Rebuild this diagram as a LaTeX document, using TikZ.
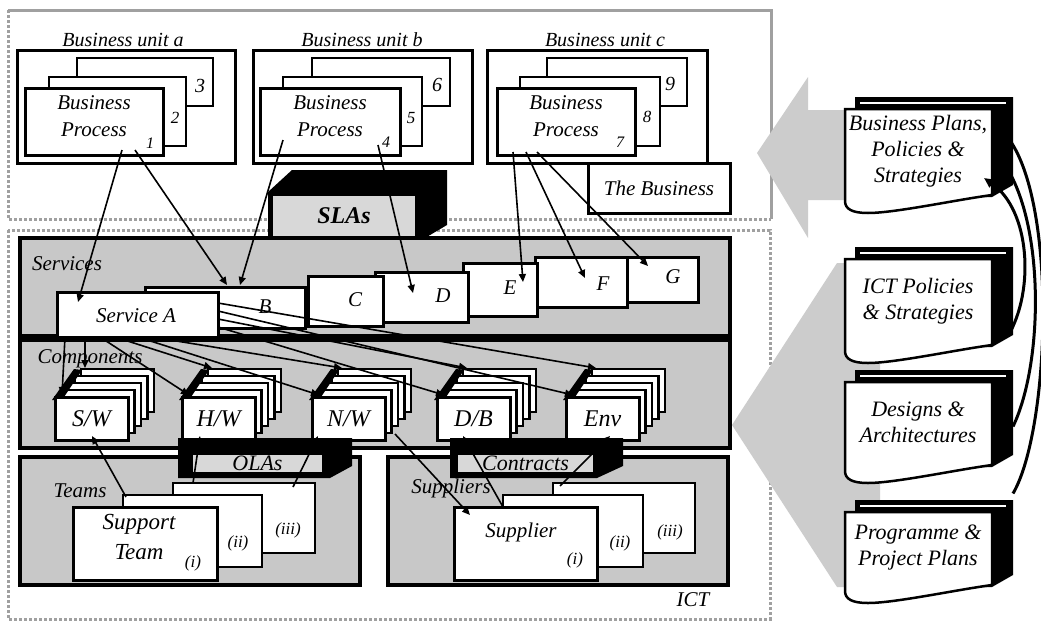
\documentclass[tikz,border=0pt]{standalone}
\usepackage{fontspec}
\setmainfont{Liberation Serif}
\usetikzlibrary{arrows.meta,calc}
\definecolor{panel}{RGB}{200,200,200}
\definecolor{slagray}{RGB}{216,216,216}
\definecolor{framegray}{RGB}{160,160,160}
\definecolor{arrowgray}{RGB}{204,204,204}
\newcommand\compstack[3]{%
  \foreach \k in {4,3,2,1}{%
    \node[rb, line width=2.6pt, minimum width=73pt, minimum height=43pt] (#1\k) at ({#2+6.5*\k},{397-7*\k}) {};}
  \fill ({#2-3},400) -- ({#2+19},369) -- ({#2+27},370) -- ({#2+7},400) -- cycle;
  \node[rb, line width=3pt, minimum width=73pt, minimum height=43pt, font=\fontsize{24}{28}\selectfont\itshape] (#1) at (#2,397) {#3};
}
\newcommand\bookshape[4]{%
  \fill (855,#1) -- (1013,#1) -- (1013,#2-28) -- (992,#2-16) -- (855,#2-16) -- cycle;
  \draw[white, line width=1.5pt] (860,#1+6) -- (1006,#1+6);
  \filldraw[fill=white, line width=2.5pt] (845,#1+12) -- (992,#1+12) -- (992,#2-18) .. controls (955,#2-13) and (895,#2) .. (868,#2) .. controls (852,#2) and (845,#2-4) .. (845,#2-12) -- cycle;
  \node[bt] (#3) at (918,{(#1+#2)/2-4}) {#4};
}
\begin{document}
\begin{tikzpicture}[x=1pt,y=-1pt,
  rb/.style={draw, line width=2.5pt, fill=white, anchor=north west, inner sep=0pt, outer sep=0pt},
  tx/.style={inner sep=0pt, align=center, font=\fontsize{21}{27}\selectfont\itshape},
  ul/.style={inner sep=0pt, font=\fontsize{20}{22}\selectfont\itshape},
  dg/.style={inner sep=0pt, font=\fontsize{#1}{#1}\selectfont\itshape},
  bt/.style={inner sep=0pt, align=center, font=\fontsize{22}{26}\selectfont\itshape},
  conn/.style={line width=1.6pt, -{Triangle[length=8pt,width=7pt]}},
  bigarc/.style={line width=3pt, -{Triangle[length=10pt,width=9pt]}},
]
\useasboundingbox (0,0) rectangle (1041,621);
\fill[white] (0,0) rectangle (1041,621);
% region frames
\draw[framegray, line width=3pt] (8,10) -- (771,10) -- (771,219);
\draw[framegray, line width=3pt, dash pattern=on 3pt off 2pt] (8,10) -- (8,219) -- (771,219);
\draw[framegray, line width=3pt, dash pattern=on 3pt off 2pt] (8,230) rectangle (770,619);
% big grey arrows
\fill[arrowgray] (757,153) -- (808,77) -- (808,110) -- (850,110) -- (850,200) -- (808,200) -- (808,238) -- cycle;
\fill[arrowgray] (732,425) -- (837,263) -- (880,263) -- (880,587) -- (837,587) -- cycle;
% business unit a
\node[rb, line width=3pt, minimum width=218pt, minimum height=113pt] (ua) at (17,50) {};
\node[rb, minimum width=136pt, minimum height=48pt] (bp3) at (77,58) {};
\node[rb, minimum width=137pt, minimum height=69pt] (bp2) at (49,77) {};
\node[rb, line width=3pt, minimum width=138pt, minimum height=67pt] (bp1) at (25,88) {};
\node[ul] (ual) at (123,40) {Business unit a};
\node[tx] (bp1t) at (94,116) {Business\\Process};
\node[dg=20] (d3) at (200,86) {3};
\node[dg=17] (d2) at (175,118) {2};
\node[dg=16] (d1) at (150,143) {1};
% business unit b
\node[rb, line width=3pt, minimum width=219pt, minimum height=113pt] (ub) at (253,50) {};
\node[rb, minimum width=138pt, minimum height=48pt] (bp6) at (312,58) {};
\node[rb, minimum width=139pt, minimum height=69pt] (bp5) at (283,77) {};
\node[rb, line width=3pt, minimum width=140pt, minimum height=67pt] (bp4) at (260,88) {};
\node[ul] (ubl) at (362,40) {Business unit b};
\node[tx] (bp4t) at (330,116) {Business\\Process};
\node[dg=20] (d6) at (437,85) {6};
\node[dg=17] (d5) at (411,118) {5};
\node[dg=16] (d4) at (386,142) {4};
% business unit c
\node[rb, line width=3pt, minimum width=220pt, minimum height=113pt] (uc) at (487,50) {};
\node[rb, minimum width=140pt, minimum height=48pt] (bp9) at (547,58) {};
\node[rb, minimum width=140pt, minimum height=69pt] (bp8) at (520,77) {};
\node[rb, line width=3pt, minimum width=138pt, minimum height=67pt] (bp7) at (497,88) {};
\node[ul] (ucl) at (605,40) {Business unit c};
\node[tx] (bp7t) at (566,116) {Business\\Process};
\node[dg=20] (d9) at (670,84) {9};
\node[dg=17] (d8) at (647,117) {8};
\node[dg=16] (d7) at (620,142) {7};
% the business
\node[rb, line width=3pt, minimum width=142pt, minimum height=50pt, tx] (biz) at (588,163) {The Business};
% ICT panels
\node[rb, fill=panel, line width=4pt, minimum width=710pt, minimum height=100pt] (svc) at (20,238) {};
\node[rb, fill=panel, line width=4pt, minimum width=710pt, minimum height=110pt] (cmp) at (20,338) {};
\draw[line width=8pt] (svc.south west) -- (svc.south east);
\node[rb, fill=panel, line width=4pt, minimum width=340pt, minimum height=128pt] (tms) at (20,457) {};
\node[rb, fill=panel, line width=4pt, minimum width=340pt, minimum height=128pt] (sps) at (388,457) {};
\node[tx] (svcl) at (67,264) {Services};
% services
\node[rb, line width=3pt, minimum width=73pt, minimum height=45pt] (sG) at (625,257) {};
\node[rb, line width=3pt, minimum width=92pt, minimum height=50pt] (sF) at (535,257) {};
\node[rb, line width=3pt, minimum width=74pt, minimum height=53pt] (sE) at (463,263) {};
\node[rb, line width=3pt, minimum width=93pt, minimum height=50pt] (sD) at (375,272) {};
\node[rb, line width=3pt, minimum width=75pt, minimum height=50pt] (sC) at (308,276) {};
\node[rb, line width=3pt, minimum width=160pt, minimum height=41pt] (sB) at (145,287) {};
\node[rb, line width=3pt, minimum width=161pt, minimum height=45pt] (sA) at (57,292) {};
\node[tx] (sAl) at (136,316) {Service A};
\node[tx] (sBl) at (265,307) {B};
\node[tx] (sCl) at (355,300) {C};
\node[tx] (sDl) at (443,296) {D};
\node[tx] (sEl) at (510,288) {E};
\node[tx] (sFl) at (603,284) {F};
\node[tx] (sGl) at (673,277) {G};
% components
\node[tx] (cmpl) at (90,359) {Components};
\compstack{sw}{55}{S/W}
\compstack{hw}{182}{H/W}
\compstack{nw}{312}{N/W}
\compstack{db}{437}{D/B}
\compstack{env}{566}{Env}
% OLAs and Contracts
\fill (178,438) -- (352,438) -- (352,466) -- (330,478) -- (178,478) -- cycle;
\node[rb, draw=none, fill=slagray, minimum width=129pt, minimum height=17pt, font=\fontsize{22}{22}\selectfont\itshape] (ola) at (193,455) {OLAs};
\fill (450,438) -- (623,438) -- (623,466) -- (597,478) -- (450,478) -- cycle;
\node[rb, draw=none, fill=slagray, minimum width=135pt, minimum height=17pt, font=\fontsize{22}{22}\selectfont\itshape] (ctr) at (458,455) {Contracts};
% teams
\node[tx] (tmsl) at (80,491) {Teams};
\node[rb, minimum width=142pt, minimum height=70pt] (tm3) at (173,483) {};
\node[rb, minimum width=139pt, minimum height=72pt] (tm2) at (123,495) {};
\node[rb, line width=3pt, minimum width=144pt, minimum height=73pt] (tm1) at (73,507) {};
\node[tx, font=\fontsize{23}{30}\selectfont\itshape] (tm1l) at (139,537) {Support\\Team};
\node[dg=17] (tmi) at (193,563) {(i)};
\node[dg=17] (tmii) at (238,543) {(ii)};
\node[dg=17] (tmiii) at (288,530) {(iii)};
% suppliers
\node[tx] (spsl) at (451,488) {Suppliers};
\node[rb, minimum width=142pt, minimum height=70pt] (sp3) at (553,483) {};
\node[rb, minimum width=140pt, minimum height=72pt] (sp2) at (503,495) {};
\node[rb, line width=3pt, minimum width=143pt, minimum height=73pt] (sp1) at (454,507) {};
\node[tx] (sp1l) at (521,532) {Supplier};
\node[dg=17] (spi) at (575,560) {(i)};
\node[dg=17] (spii) at (620,543) {(ii)};
\node[dg=17] (spiii) at (670,532) {(iii)};
\node[tx] (ictl) at (693,600) {ICT};
% SLAs
\fill (268,192) -- (292,170) -- (447,170) -- (447,225) -- (425,238) -- (268,238) -- cycle;
\node[rb, draw=none, fill=slagray, minimum width=142pt, minimum height=40pt, font=\fontsize{24}{24}\selectfont\bfseries\itshape] (sla) at (273,196) {SLAs};
% books
\bookshape{97}{213}{bkbp}{Business Plans,\\Policies \&\\Strategies}
\bookshape{247}{363}{bkict}{ICT Policies\\\& Strategies}
\bookshape{370}{483}{bkda}{Designs \&\\Architectures}
\bookshape{500}{603}{bkpp}{Programme \&\\Project Plans}
\draw[bigarc] ($(bkpp)+(95,-54)$) .. controls (1050,430) and (1058,200) .. ($(bkbp)+(83,-22)$);
\draw[bigarc] ($(bkda)+(95,4)$) .. controls (1045,360) and (1045,210) .. ($(bkbp)+(74,-2)$);
\draw[bigarc] ($(bkict)+(90,35)$) .. controls (1035,290) and (1030,210) .. ($(bkbp)+(66,27)$);
% business process -> services
\draw[conn] ($(bp1.south west)+(97,-5)$) -- ($(sA.north west)+(21,10)$);
\draw[conn] ($(bp1.south west)+(110,-5)$) -- ($(sB.north west)+(82,-2)$);
\draw[conn] ($(bp4.south west)+(23,-15)$) -- ($(sB.north west)+(95,-2)$);
\draw[conn] ($(bp4.south west)+(118,-10)$) -- ($(sD.north west)+(38,21)$);
\draw[conn] ($(bp7.south west)+(16,-3)$) -- ($(sE.north west)+(60,19)$);
\draw[conn] ($(bp7.south west)+(29,-3)$) -- ($(sF.north west)+(50,21)$);
\draw[conn] ($(bp7.south west)+(40,-3)$) -- ($(sG.north west)+(23,9)$);
% service A -> components
\draw[conn] ($(sA.south west)+(8,0)$) -- ($(sw.north west)+(7,-2)$);
\draw[conn] ($(sA.south west)+(28,0)$) -- ($(sw4.north west)+(4,-1)$);
\draw[conn] ($(sA.south west)+(43,0)$) -- ($(hw.north west)+(7,-2)$);
\draw[conn] ($(sA.south west)+(58,0)$) -- ($(hw4.north west)+(4,-1)$);
\draw[conn] ($(sA.south west)+(81,0)$) -- ($(nw.north west)+(7,-2)$);
\draw[conn] ($(sA.south west)+(95,0)$) -- ($(nw4.north west)+(4,-1)$);
\draw[conn] ($(sA.south east)+(0,-10)$) -- ($(db.north west)+(7,-2)$);
\draw[conn] ($(sA.south east)+(0,-18)$) -- ($(db4.north west)+(4,-1)$);
\draw[conn] ($(sA.south east)+(0,-26)$) -- ($(env.north west)+(7,-2)$);
\draw[conn] ($(sA.south east)+(0,-34)$) -- ($(env4.north west)+(4,-1)$);
% teams and suppliers -> components
\draw[conn] ($(tm2.north west)+(3,2)$) -- ($(sw.south west)+(37,-4)$);
\draw[conn] ($(tm3.north west)+(20,0)$) -- ($(hw.south west)+(18,-4)$);
\draw[conn] ($(tm3.north west)+(120,4)$) -- ($(nw.south west)+(6,-4)$);
\draw[conn] ($(nw.south east)+(10,-6)$) -- ($(sp1.north west)+(16,8)$);
\draw[conn] ($(sp1.north west)+(49,0)$) -- ($(db.south west)+(26,-4)$);
\draw[conn] ($(sp3.north west)+(7,3)$) -- ($(env.south west)+(44,-4)$);
\end{tikzpicture}
\end{document}
